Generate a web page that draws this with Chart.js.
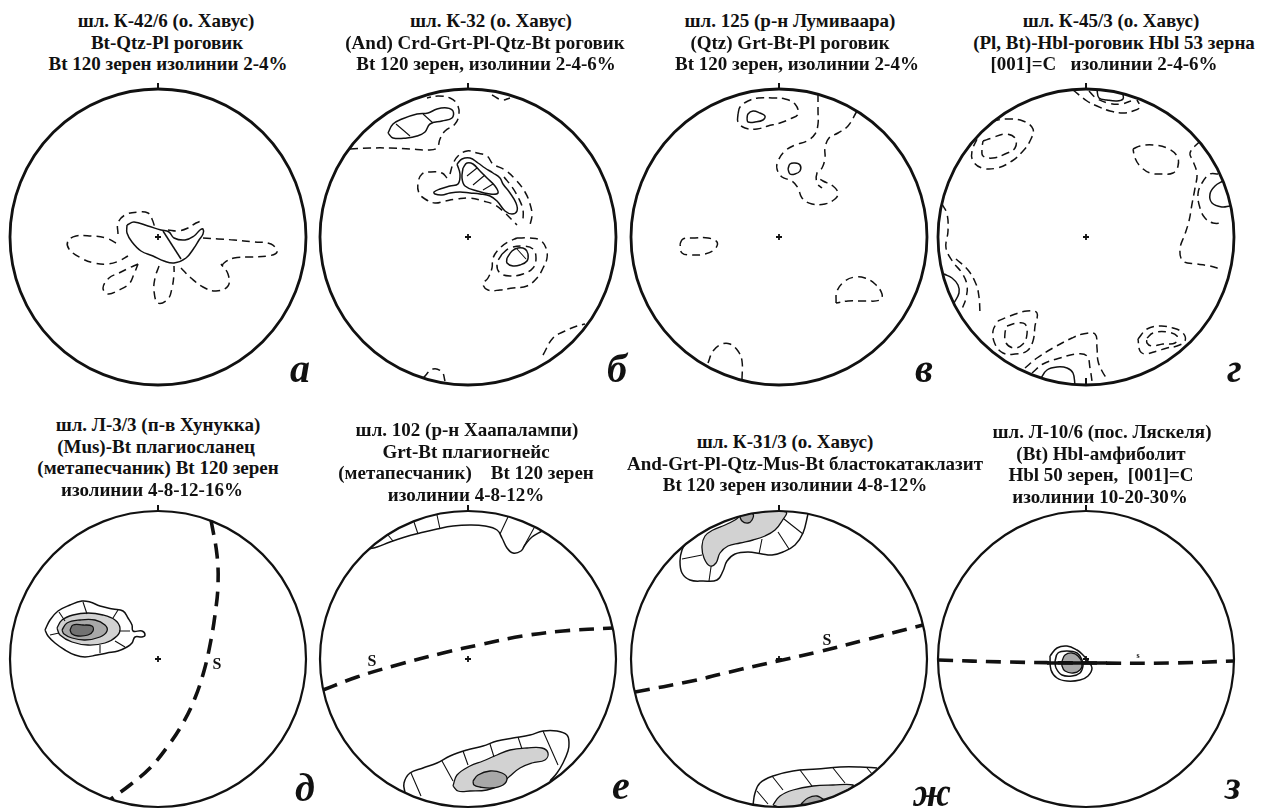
<!DOCTYPE html>
<html>
<head>
<meta charset="utf-8">
<script src="https://cdn.jsdelivr.net/npm/chart.js@4/dist/chart.umd.min.js"></script>
<style>
  html, body { margin: 0; padding: 0; background: #fff; width: 1263px; height: 809px; overflow: hidden; }
  #fig { position: relative; width: 1263px; height: 809px; }
  canvas.net { position: absolute; }
  .tline {
    position: absolute; transform: translateX(-50%);
    font-family: "Liberation Serif", "Times New Roman", serif; font-weight: bold;
    font-size: 19px; line-height: 21.5px; white-space: pre; color: #111; z-index: 2;
  }
  .tag {
    position: absolute; font-family: "Liberation Serif", "Times New Roman", serif;
    font-weight: bold; font-style: italic; font-size: 40px; line-height: 40px; color: #111; z-index: 2;
  }
</style>
</head>
<body>
<div id="fig"></div>
<script>
// ---------- panel captions ----------
const panelTags = ['а', 'б', 'в', 'г', 'д', 'е', 'ж', 'з'];
const panelTitles = [
  ['шл. К-42/6 (о. Хавус)', 'Bt-Qtz-Pl роговик', 'Bt 120 зерен изолинии 2-4%'],
  ['шл. К-32 (о. Хавус)', '(And) Crd-Grt-Pl-Qtz-Bt роговик', 'Bt 120 зерен, изолинии 2-4-6%'],
  ['шл. 125 (р-н Лумиваара)', '(Qtz) Grt-Bt-Pl роговик', 'Bt 120 зерен, изолинии 2-4%'],
  ['шл. К-45/3 (о. Хавус)', '(Pl, Bt)-Hbl-роговик Hbl 53 зерна', '[001]=C   изолинии 2-4-6%'],
  ['шл. Л-3/3 (п-в Хунукка)', '(Mus)-Bt плагиосланец', '(метапесчаник) Bt 120 зерен', 'изолинии 4-8-12-16%'],
  ['шл. 102 (р-н Хаапалампи)', 'Grt-Bt плагиогнейс', '(метапесчаник)    Bt 120 зерен', 'изолинии 4-8-12%'],
  ['шл. К-31/3 (о. Хавус)', 'And-Grt-Pl-Qtz-Mus-Bt бластокатаклазит', 'Bt 120 зерен изолинии 4-8-12%'],
  ['шл. Л-10/6 (пос. Ляскеля)', '(Bt) Hbl-амфиболит', 'Hbl 50 зерен,  [001]=С', 'изолинии 10-20-30%']
];

// ---------- contour data, net coordinates (primitive circle radius 148) ----------
// а
const A_solid = [
  [[-31,12],[-24,15],[-10,11],[3,7],[11,5],[16,-1],[27,-3],[36,1],[42,7],[45,8],[45,3],[41,-3],[36,-11],[28,-21],[16,-26],[6,-24],[-5,-19],[-17,-14],[-26,-5],[-31,4],[-31,12]],
  [[5,6],[23,-22]]
];
const A_dashed = [
  [[-40,3],[-40,14],[-33,22],[-20,25],[-10,24],[-6,18],[-3,9]],
  [[10,7],[20,6],[30,9],[38,14],[43,16]],
  [[-42,-6],[-52,-1],[-67,1],[-82,1],[-90,-4],[-89,-12],[-77,-21],[-64,-26],[-50,-27],[-39,-24],[-30,-19]],
  [[-20,-27],[-29,-31],[-39,-36],[-49,-41],[-55,-51],[-50,-57],[-39,-53],[-29,-47],[-24,-37],[-20,-27]],
  [[1,-29],[-3,-41],[-4,-54],[0,-66],[10,-62],[14,-51],[16,-37],[16,-29]],
  [[23,-31],[33,-41],[45,-50],[58,-54],[70,-49],[70,-37],[63,-27]],
  [[45,-1],[60,-2],[76,-3],[96,-5],[113,-7],[119,-15],[110,-19],[93,-20],[76,-21],[66,-26],[63,-31]]
];
// б
const B_solid = [
  [[-80,104],[-75,113],[-66,118],[-51,123],[-40,124],[-31,128],[-21,129],[-15,126],[-16,119],[-26,116],[-38,113],[-43,105],[-51,101],[-61,99],[-75,99],[-80,104]],
  [[-11,73],[-6,78],[2,79],[10,74],[17,69],[25,64],[32,59],[35,53],[42,44],[48,34],[49,26],[44,23],[37,26],[29,36],[22,41],[12,43],[2,44],[-8,45],[-18,44],[-26,42],[-33,43],[-34,45],[-28,48],[-18,51],[-10,53],[-8,63],[-11,73]],
  [[-5,69],[-1,74],[5,73],[12,66],[19,59],[27,51],[30,44],[22,43],[9,46],[-3,51],[-6,59],[-5,69]],
  [[39,-21],[44,-14],[50,-11],[57,-12],[60,-17],[59,-24],[52,-28],[45,-29],[39,-26],[39,-21]]
];
const B_hatch = [
  [[-72,113],[-58,101]], [[-45,123],[-35,114]],
  [[-1,61],[9,69]], [[5,52],[17,62]], [[15,47],[25,53]],
  [[49,-12],[58,-22]]
];
const B_dashed = [
  [[-118,88],[-98,89],[-78,89],[-58,88],[-40,87],[-31,89],[-28,98],[-23,106],[-13,113],[-9,123],[-11,133],[-18,139],[-30,141],[-41,139]],
  [[24,142],[34,137],[42,139]],
  [[-21,59],[-26,64],[-38,65],[-46,63],[-50,54],[-49,44],[-43,38],[-33,34],[-23,36],[-11,38],[2,39],[15,36],[27,32],[37,24],[45,16],[49,12]],
  [[-18,63],[-15,73],[-10,81],[-1,86],[9,84],[19,81],[25,73],[37,67],[48,57],[57,45],[62,33],[64,22],[62,12]],
  [[36,60],[44,50],[51,38],[55,27],[55,17]],
  [[49,-1],[62,-1],[72,-3],[78,-11],[79,-21],[75,-31],[69,-41],[59,-49],[45,-51],[32,-53],[20,-53],[15,-47],[20,-41],[24,-31],[25,-21],[32,-11],[40,-5],[49,-1]],
  [[34,-17],[42,-11],[55,-9],[65,-12],[68,-21],[65,-31],[55,-37],[42,-39],[32,-36],[29,-27],[34,-17]],
  [[75,-118],[85,-101],[97,-94],[109,-89],[117,-87]],
  [[-45,-141],[-35,-132],[-26,-135],[-23,-144]]
];
// в
const V_solid = [
  [[-32,118],[-31,123],[-26,126],[-19,124],[-14,121],[-16,117],[-24,115],[-31,115],[-32,118]],
  [[9,68],[11,73],[16,74],[21,72],[21,66],[16,63],[11,63],[9,68]]
];
const V_dashed = [
  [[-41,123],[-39,130],[-31,136],[-21,139],[-7,139],[6,138],[16,133],[19,123],[11,118],[1,114],[-11,111],[-22,108],[-34,109],[-41,115],[-41,123]],
  [[39,143],[39,126],[39,113],[36,103],[28,96],[16,92],[6,86],[-1,76],[-2,68],[3,60],[13,56],[19,49],[23,39],[33,33],[46,33],[56,38],[59,44],[54,51],[44,56],[39,59]],
  [[78,126],[69,111],[59,104],[50,99],[46,89],[46,79],[43,69],[38,64],[38,54],[43,49]],
  [[-99,-7],[-96,-2],[-84,-1],[-71,-1],[-62,-5],[-64,-12],[-74,-17],[-87,-18],[-97,-16],[-99,-7]],
  [[57,-66],[58,-54],[66,-44],[76,-40],[86,-41],[96,-47],[103,-57],[101,-63],[86,-64],[69,-64],[57,-66]],
  [[-71,-126],[-66,-114],[-57,-107],[-49,-107],[-41,-114],[-37,-124],[-37,-143]]
];
// г
const G_solid = [
  [[11,147],[13,139],[21,137],[31,136],[37,138],[37,143]],
  [[137,56],[129,51],[124,43],[126,34],[136,30],[144,31]],
  [[-142,-37],[-134,-41],[-128,-48],[-127,-56],[-132,-66]],
  [[-45,-141],[-39,-133],[-29,-130],[-19,-131],[-13,-136],[-11,-148]]
];
const G_dashed = [
  [[-13,147],[1,136],[11,131],[24,126],[37,124],[47,126],[54,130],[51,137]],
  [[3,146],[10,139],[22,134],[35,133],[45,136]],
  [[-94,116],[-79,118],[-63,116],[-53,108],[-56,96],[-63,86],[-74,76],[-89,69],[-104,69],[-113,76],[-114,86],[-109,98]],
  [[-103,96],[-94,99],[-81,103],[-71,99],[-71,89],[-81,83],[-93,79],[-103,81],[-104,88],[-103,96]],
  [[47,88],[54,91],[67,92],[81,89],[91,81],[92,71],[87,64],[76,63],[64,64],[54,71],[49,79],[47,88]],
  [[114,96],[104,84],[107,76],[111,63],[109,49],[106,33],[103,16],[99,3],[94,-12],[97,-24],[111,-27],[124,-29],[134,-32]],
  [[132,63],[124,63],[116,54],[112,43],[114,29],[119,19],[127,14],[137,14]],
  [[-144,33],[-139,23],[-138,6],[-140,-11],[-133,-25],[-124,-36],[-119,-48],[-120,-61],[-124,-72]],
  [[-130,-22],[-118,-33],[-110,-47],[-107,-60],[-106,-76]],
  [[-88,-84],[-76,-79],[-59,-74],[-49,-76],[-51,-89],[-53,-104],[-59,-114],[-71,-117],[-83,-116],[-91,-107],[-93,-94],[-88,-84]],
  [[-79,-89],[-69,-86],[-61,-87],[-59,-97],[-63,-107],[-72,-111],[-80,-106],[-81,-96],[-79,-89]],
  [[-61,-131],[-49,-121],[-33,-111],[-14,-101],[-3,-97],[9,-97],[11,-111],[12,-124],[16,-134],[21,-142]],
  [[-54,-136],[-43,-127],[-26,-121],[-9,-117],[1,-119],[4,-131],[6,-144]],
  [[52,-102],[61,-92],[74,-89],[87,-91],[97,-96],[99,-104],[91,-109],[81,-111],[71,-114],[59,-117],[54,-114],[52,-102]],
  [[61,-101],[67,-96],[81,-95],[91,-99],[89,-106],[77,-107],[66,-109],[61,-106],[61,-101]]
];
// д
const D_solid = [
  [[-113,29],[-108,39],[-100,48],[-88,54],[-76,58],[-68,57],[-58,53],[-45,50],[-35,48],[-30,41],[-26,34],[-25,28],[-16,28],[-13,24],[-16,22],[-23,22],[-26,16],[-31,12],[-40,8],[-51,6],[-61,4],[-73,2],[-83,4],[-93,9],[-103,16],[-110,23],[-113,29]]
];
const D_light = [[[-101,31],[-96,39],[-85,44],[-70,46],[-55,44],[-43,39],[-38,31],[-41,23],[-53,16],[-70,14],[-86,17],[-98,24],[-101,31]]];
const D_mid = [[[-96,29],[-91,36],[-78,39],[-63,39],[-53,34],[-51,28],[-58,22],[-73,19],[-86,21],[-94,25],[-96,29]]];
const D_dark = [[[-88,29],[-85,34],[-75,34],[-66,33],[-65,28],[-70,24],[-80,23],[-86,25],[-88,29]]];
const D_hatch = [
  [[-99,47],[-93,38]], [[-75,57],[-71,45]], [[-40,49],[-45,41]], [[-28,28],[-39,28]],
  [[-33,12],[-43,18]], [[-58,6],[-58,14]], [[-108,24],[-99,26]]
];
const D_plane = [[53,139],[59,104],[60,74],[57,44],[52,14],[46,-12],[37,-39],[25,-64],[10,-87],[-8,-109],[-28,-126],[-47,-140]];
const D_planeLabel = ['S', 59, -6];
// е
const E_solid = [
  [[-99,110],[-91,112],[-78,117],[-63,122],[-48,126],[-31,130],[-15,133],[2,134],[17,133],[29,129],[34,121],[39,111],[45,106],[53,108],[57,114],[64,122],[74,128]],
  [[-63,-134],[-64,-124],[-58,-114],[-45,-109],[-31,-104],[-18,-97],[-1,-91],[15,-87],[29,-82],[45,-79],[62,-76],[75,-72],[89,-72],[99,-76],[101,-84],[100,-92],[95,-104],[89,-114],[82,-122]]
];
const E_light = [[[-15,-127],[-11,-116],[2,-107],[15,-102],[29,-96],[42,-91],[59,-89],[74,-89],[80,-94],[77,-101],[64,-104],[52,-109],[42,-117],[32,-126],[19,-131],[2,-132],[-10,-132],[-15,-127]]];
const E_mid = [[[5,-122],[10,-116],[22,-112],[34,-114],[39,-119],[35,-126],[24,-129],[12,-128],[6,-126],[5,-122]]];
const E_hatch = [
  [[-75,118],[-80,124]], [[-50,125],[-54,137]], [[-28,130],[-31,144]], [[32,125],[40,142]], [[55,111],[66,131]],
  [[-57,-114],[-47,-137]], [[-26,-102],[-15,-122]], [[-5,-92],[0,-106]], [[22,-85],[26,-98]],
  [[50,-78],[54,-90]], [[75,-72],[90,-106]]
];
const E_plane = [[-145,-31],[-111,-18],[-71,-6],[-25,6],[15,15],[55,23],[95,28],[145,31]];
const E_planeLabel = ['S', -96, -3];
// ж
const ZH_solid = [
  [[-92,118],[-97,109],[-99,98],[-97,86],[-89,79],[-76,78],[-62,79],[-56,88],[-52,98],[-44,105],[-31,107],[-17,105],[-7,104],[4,107],[16,114],[24,126],[29,145]],
  [[-26,-146],[-24,-134],[-19,-124],[-6,-117],[14,-112],[38,-110],[61,-108],[81,-108],[98,-109]]
];
const ZH_light = [
  [[-39,143],[-44,139],[-54,134],[-66,129],[-74,123],[-77,113],[-75,101],[-69,93],[-63,96],[-59,106],[-51,113],[-39,116],[-26,119],[-14,123],[-4,129],[3,138],[7,147],[-16,147],[-39,143]],
  [[-6,-146],[1,-137],[14,-131],[34,-127],[54,-126],[74,-126],[70,-130],[50,-140],[25,-146],[0,-148],[-6,-146]]
];
const ZH_mid = [
  [[-40,145],[-37,138],[-31,136],[-27,139],[-26,145],[-33,146],[-40,145]],
  [[22,-145],[29,-139],[38,-137],[44,-140],[48,-141],[40,-143],[30,-146],[22,-145]]
];
const ZH_hatch = [
  [[-97,100],[-77,104]], [[-70,78],[-68,92]], [[-20,105],[-17,120]], [[10,110],[-1,127]], [[24,125],[5,140]],
  [[-7,-117],[4,-131]], [[21,-111],[33,-127]], [[54,-109],[66,-124]], [[88,-109],[94,-116]], [[-22,-132],[-11,-145]]
];
const ZH_plane = [[-144,-33],[-87,-22],[-37,-10],[-1,-2],[39,7],[86,19],[144,34]];
const ZH_planeLabel = ['S', 48, 18];
// з
const Z_solid = [
  [[-36,3],[-29,11],[-19,13],[-9,9],[-3,4],[2,-2],[6,-9],[2,-17],[-6,-21],[-19,-22],[-29,-19],[-35,-11],[-36,3]],
  [[-31,-2],[-28,6],[-19,8],[-9,6],[-4,-1],[-3,-7],[-6,-14],[-14,-17],[-24,-16],[-30,-9],[-31,-2]]
];
const Z_mid = [[[-24,-2],[-21,4],[-14,6],[-8,3],[-4,-4],[-6,-11],[-13,-14],[-21,-12],[-24,-7],[-24,-2]]];
const Z_plane = [[-148,-1],[-79,-3],[0,-4],[87,-4],[148,-2]];
const Z_planeTrace = [[-39,-4],[21,-4]];
const Z_planeLabel = ['s', 52, 3];

// ---------- layout ----------
const NET_R = 148;
const HALF = 160;
const centres = [[158,237],[468,237],[779,237],[1086,237],[158,659],[468,659],[779,659],[1086,659]];
const titleTops = [10, 10, 10, 10, 414, 419, 431, 421];
const titleCentreX = [167, 487, 792, 1112, 157, 466, 795, 1101];
const titleLineShift = [
  [-1, 0, 1], [4, -2, -1], [-2, -2, 5], [-1, 2, -8],
  [1, -1, 1, -5], [1, 0, 0, 0], [-10, 10, 0], [1, 0, 0, -1]
];
const LINE_H = 21.5;
const tagAnchors = [[290,349],[607,349],[915,349],[1227,349],[295,768],[612,766],[913,773],[1225,766]];

const panels = [
  { solid: A_solid, dashed: A_dashed },
  { solid: B_solid, dashed: B_dashed, hatch: B_hatch },
  { solid: V_solid, dashed: V_dashed },
  { solid: G_solid, dashed: G_dashed, southTick: true },
  { solid: D_solid, light: D_light, mid: D_mid, dark: D_dark, hatch: D_hatch, plane: D_plane, label: D_planeLabel },
  { solid: E_solid, light: E_light, mid: E_mid, hatch: E_hatch, plane: E_plane, label: E_planeLabel },
  { solid: ZH_solid, light: ZH_light, mid: ZH_mid, hatch: ZH_hatch, plane: ZH_plane, label: ZH_planeLabel },
  { solid: Z_solid, mid: Z_mid, plane: Z_plane, trace: Z_planeTrace, label: Z_planeLabel, smallLabel: true }
];

const INK = '#111';
const SHADE = { light: '#d2d2d2', mid: '#a8a8a8', dark: '#727272' };

const toXY = pts => pts.map(([x, y]) => ({ x, y }));
function segmentsXY(list) {
  const out = [];
  list.forEach(seg => { seg.forEach(([x, y]) => out.push({ x, y })); out.push({ x: null, y: null }); });
  return out;
}
function lineSet(data, extra) {
  return Object.assign({
    data, showLine: true, pointRadius: 0, pointHoverRadius: 0,
    borderColor: INK, borderWidth: 1.5, tension: 0.4, fill: false,
    borderCapStyle: 'butt', borderJoinStyle: 'round', spanGaps: false
  }, extra);
}

function buildDatasets(p) {
  const ds = [];
  ['light', 'mid', 'dark'].forEach(level => {
    (p[level] || []).forEach(poly => ds.push(lineSet(toXY(poly), {
      fill: 'shape', backgroundColor: SHADE[level], borderWidth: 1.3
    })));
  });
  (p.solid || []).forEach(s => ds.push(lineSet(toXY(s), {})));
  (p.dashed || []).forEach(s => ds.push(lineSet(toXY(s), { borderDash: [8, 5], borderWidth: 1.5 })));
  if (p.hatch) ds.push(lineSet(segmentsXY(p.hatch), { tension: 0, borderWidth: 1.1 }));
  if (p.plane) ds.push(lineSet(toXY(p.plane), { borderWidth: 3.6, borderDash: [15, 9], tension: 0.4 }));
  if (p.trace) ds.push(lineSet(toXY(p.trace), { borderWidth: 3.6, tension: 0 }));
  // later entries paint on top
  ds.forEach((d, i) => { d.order = ds.length - i; });
  return ds;
}

// primitive circle, north/south ticks, centre cross and plane label
const netFrame = {
  id: 'netFrame',
  beforeDatasetsDraw(chart, args, o) {
    const { ctx, scales: { x, y } } = chart;
    const cx = x.getPixelForValue(0), cy = y.getPixelForValue(0);
    const r = x.getPixelForValue(o.radius) - cx;
    ctx.save();
    ctx.beginPath(); ctx.arc(cx, cy, r + 0.5, 0, Math.PI * 2); ctx.clip();
  },
  afterDatasetsDraw(chart, args, o) {
    const { ctx, scales: { x, y } } = chart;
    ctx.restore();
    const cx = x.getPixelForValue(0), cy = y.getPixelForValue(0);
    const r = x.getPixelForValue(o.radius) - cx;
    ctx.save();
    ctx.strokeStyle = INK; ctx.fillStyle = INK;
    ctx.lineWidth = o.frameWidth;
    ctx.beginPath(); ctx.arc(cx, cy, r, 0, Math.PI * 2); ctx.stroke();
    ctx.lineWidth = 2;
    ctx.beginPath(); ctx.moveTo(cx, cy - r + 1); ctx.lineTo(cx, cy - r - 6); ctx.stroke();
    if (o.southTick) { ctx.beginPath(); ctx.moveTo(cx, cy + r); ctx.lineTo(cx, cy + r - 7); ctx.stroke(); }
    ctx.lineWidth = 1.8;
    ctx.beginPath();
    ctx.moveTo(cx - 3, cy); ctx.lineTo(cx + 3, cy);
    ctx.moveTo(cx, cy - 3); ctx.lineTo(cx, cy + 3);
    ctx.stroke();
    if (o.label) {
      const [txt, lx, ly] = o.label;
      ctx.font = 'bold ' + (o.smallLabel ? 8 : 16) + 'px "Liberation Serif", serif';
      ctx.textAlign = 'center'; ctx.textBaseline = 'middle';
      ctx.fillText(txt, x.getPixelForValue(lx), y.getPixelForValue(ly));
    }
    ctx.restore();
  }
};

const fig = document.getElementById('fig');

panels.forEach((p, i) => {
  const [cx, cy] = centres[i];
  const cv = document.createElement('canvas');
  cv.className = 'net';
  cv.width = 2 * HALF; cv.height = 2 * HALF;
  cv.style.left = (cx - HALF) + 'px'; cv.style.top = (cy - HALF) + 'px';
  cv.style.width = 2 * HALF + 'px'; cv.style.height = 2 * HALF + 'px';
  fig.appendChild(cv);

  new Chart(cv.getContext('2d'), {
    type: 'scatter',
    data: { datasets: buildDatasets(p) },
    options: {
      responsive: false, maintainAspectRatio: false, animation: false, devicePixelRatio: 1,
      events: [],
      layout: { padding: 0 },
      scales: {
        x: { type: 'linear', min: -HALF, max: HALF, display: false },
        y: { type: 'linear', min: -HALF, max: HALF, display: false }
      },
      plugins: {
        legend: { display: false }, tooltip: { enabled: false },
        netFrame: {
          radius: NET_R, frameWidth: i < 4 ? 2.8 : 2.2,
          southTick: !!p.southTick, label: p.label || null, smallLabel: !!p.smallLabel
        }
      }
    },
    plugins: [netFrame]
  });

  panelTitles[i].forEach((line, k) => {
    const t = document.createElement('div');
    t.className = 'tline';
    t.style.left = (titleCentreX[i] + titleLineShift[i][k]) + 'px';
    t.style.top = (titleTops[i] + k * LINE_H) + 'px';
    t.textContent = line;
    fig.appendChild(t);
  });

  const g = document.createElement('div');
  g.className = 'tag';
  g.style.left = tagAnchors[i][0] + 'px';
  g.style.top = tagAnchors[i][1] + 'px';
  g.textContent = panelTags[i];
  fig.appendChild(g);
});
</script>
</body>
</html>
